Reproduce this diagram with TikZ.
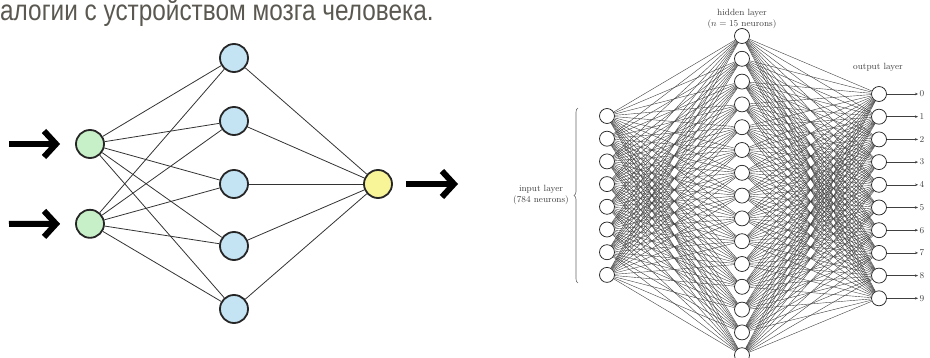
\documentclass[tikz,border=0pt]{standalone}
\usepackage{fontspec}
\newfontfamily\titlefont[FakeStretch=0.84]{Liberation Sans}
\usepackage{tikz}
\usetikzlibrary{positioning, calc, arrows.meta, decorations.pathreplacing}
\definecolor{titlegray}{HTML}{5A5850}
\definecolor{inputgreen}{HTML}{C8F0C8}
\definecolor{hiddenblue}{HTML}{C4E4F4}
\definecolor{outyellow}{HTML}{F8F498}
\tikzstyle{Neuron} = [circle, draw=black!85, line width=1.8pt,
minimum size=28pt, inner sep=0pt]
\tikzstyle{Link} = [black!80, line width=0.8pt]
\tikzstyle{BigArrow} = [line width=6pt,
-{Straight Barb[length=12pt, width=26pt]}]
\tikzstyle{Unit} = [circle, draw=black!85, fill=white, line width=0.75pt,
minimum size=15pt, inner sep=0pt]
\tikzstyle{Wire} = [black!75, line width=0.4pt]
\tikzstyle{Tag} = [font=\fontsize{9}{11}\selectfont, text=black!75,
align=center, inner sep=1.5pt]

\begin{document}
\begin{tikzpicture}[x=1pt, y=-1pt]
    \useasboundingbox (0,0) rectangle (930,358);
    \node [anchor=base west, inner sep=0pt, text=titlegray,
        font=\titlefont\fontsize{29}{29}\selectfont] (title) at (0,21)
        {алогии с устройством мозга человека.};
    % left net: two inputs, five hidden, one output
    \node [Neuron, fill=inputgreen] (in1) at (90,144) {};
    \node [Neuron, fill=inputgreen, below =50pt of in1] (in2) {};
    \foreach \j/\y in {1/58, 2/121, 3/184, 4/246, 5/309}
        \node [Neuron, fill=hiddenblue] (h\j) at (234,\y) {};
    \node [Neuron, fill=outyellow] (y) at (378,184) {};
    \foreach \i in {1,2}
        \foreach \j in {1,...,5}
            \draw[Link] (in\i) -- (h\j);
    \foreach \j in {1,...,5}
        \draw[Link] (h\j) -- (y);
    \coordinate (src1) at (9,144);
    \coordinate (src2) at (9,224);
    \coordinate (sink) at (458,184);
    \draw[BigArrow, shorten >=15pt] (src1) -- (in1);
    \draw[BigArrow, shorten >=15pt] (src2) -- (in2);
    \draw[BigArrow, shorten <=13pt] (y) -- (sink);
    % right net: 784 -> 15 -> 10
    \foreach \i in {1,...,8}
        \node [Unit] (x\i) at (607, 93.3+22.7*\i) {};
    \foreach \j in {1,...,15}
        \node [Unit] (hid\j) at (742, 13.2+22.8*\j) {};
    \foreach \k in {0,...,9} {
        \node [Unit] (o\k) at (879, 94+22.7*\k) {};
        \node [Tag, anchor=west] (d\k) at (918, 94+22.7*\k) {\k};
        \draw[Wire, line width=0.5pt, -{Stealth[length=3pt, width=2.5pt]}]
            (o\k) -- (d\k);
    }
    \foreach \i in {1,...,8}
        \foreach \j in {1,...,15}
            \draw[Wire] (x\i) -- (hid\j);
    \foreach \j in {1,...,15}
        \foreach \k in {0,...,9}
            \draw[Wire] (hid\j) -- (o\k);
    \node [Tag] (hidtag) at (742,19.5) {hidden layer\\($n = 15$ neurons)};
    \node [Tag] (outtag) at (878,67) {output layer};
    \node [Tag] (intag) at (541,195) {input layer\\(784 neurons)};
    \draw[black!60, line width=0.6pt, decorate,
        decoration={brace, amplitude=4pt}] (578,283) -- (578,108);
\end{tikzpicture}
\end{document}
